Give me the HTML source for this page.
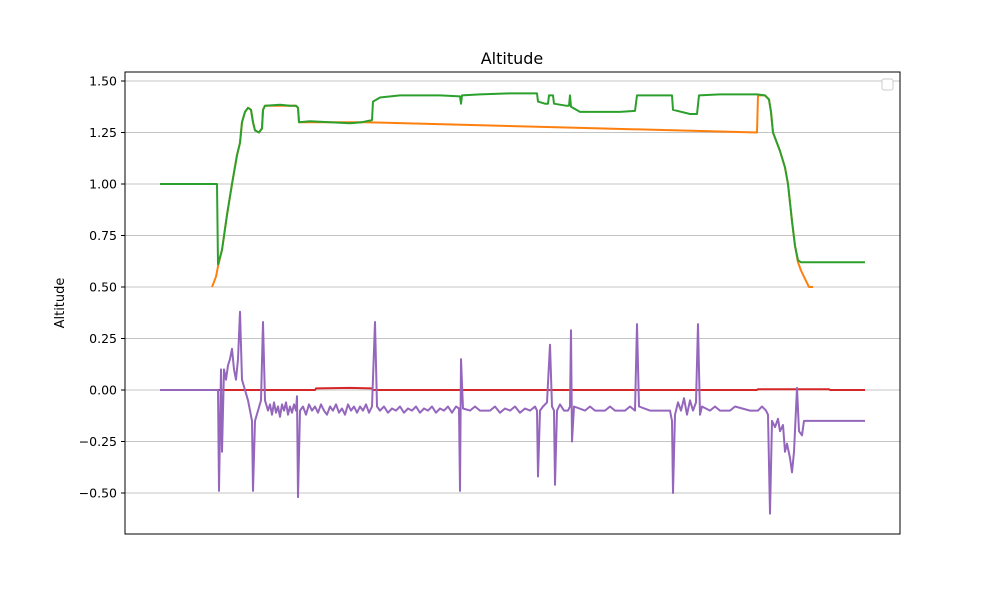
<!DOCTYPE html>
<html><head><meta charset="utf-8"><style>
body{margin:0;background:#fff;font-family:"Liberation Sans","DejaVu Sans",sans-serif}
svg text{font-family:"DejaVu Sans","Liberation Sans",sans-serif}
</style></head><body>
<svg id="chart" width="1000" height="600" xmlns="http://www.w3.org/2000/svg">
<rect width="1000" height="600" fill="#fff"/>
<g id="grid"></g>
<g id="series"></g>
<rect x="125" y="72" width="775" height="462" fill="none" stroke="#000" stroke-width="1"/>
<g id="yticks"></g>
<text x="512" y="64" font-size="16" text-anchor="middle">Altitude</text>
<text transform="translate(64,303) rotate(-90)" font-size="13" text-anchor="middle">Altitude</text>
<rect x="882" y="79" width="11" height="11" rx="2" fill="#fff" stroke="#ccc"/>
</svg>
<script>
const yTicks=[1.5,1.25,1.0,0.75,0.5,0.25,0,-0.25,-0.5];
const yTickLabels=["1.50","1.25","1.00","0.75","0.50","0.25","0.00","\u22120.25","\u22120.50"];
const green=[[0,1.0],[57,1.0],[58,0.61],[62,0.68],[67,0.85],[72,1.0],[77,1.14],[80,1.2],[82,1.3],[85,1.35],[88,1.37],[91,1.36],[93,1.3],[95,1.26],[99,1.25],[102,1.27],[103,1.36],[105,1.38],[120,1.385],[130,1.38],[136,1.38],[138,1.37],[139,1.30],[150,1.305],[170,1.30],[190,1.295],[202,1.30],[212,1.31],[213,1.40],[220,1.42],[240,1.43],[280,1.43],[300,1.425],[301,1.39],[302,1.43],[320,1.435],[350,1.44],[377,1.44],[378,1.40],[385,1.39],[388,1.39],[389,1.43],[393,1.43],[394,1.39],[406,1.38],[409,1.38],[410,1.43],[411,1.375],[420,1.35],[460,1.35],[475,1.355],[477,1.43],[500,1.43],[512,1.43],[513,1.36],[530,1.34],[537,1.34],[539,1.43],[560,1.435],[597,1.435],[605,1.43],[609,1.41],[611,1.35],[613,1.25],[620,1.16],[625,1.08],[628,1.0],[632,0.82],[635,0.7],[638,0.63],[641,0.62],[705,0.62]];
const orange=[[52,0.5],[56,0.55],[58,0.6],[62,0.68],[67,0.85],[72,1.0],[77,1.14],[80,1.2],[82,1.3],[85,1.35],[88,1.37],[91,1.36],[93,1.3],[95,1.26],[99,1.25],[102,1.27],[103,1.36],[105,1.38],[136,1.38],[138,1.37],[139,1.30],[170,1.30],[205,1.30],[597,1.25],[598,1.43],[605,1.43],[609,1.41],[611,1.35],[613,1.25],[620,1.16],[625,1.08],[628,1.0],[632,0.82],[635,0.7],[638,0.62],[641,0.58],[645,0.54],[649,0.5],[653,0.5]];
const red=[[0,0],[155,0],[156,0.008],[190,0.01],[212,0.008],[213,0],[597,0],[598,0.004],[669,0.004],[670,0],[705,0]];
const purple=[[0,0],[58,0],[59,-0.49],[61,0.1],[62,-0.3],[64,0.1],[66,0.05],[68,0.12],[70,0.15],[72,0.2],[74,0.1],[76,0.05],[78,0.15],[80,0.38],[82,0.05],[85,0.0],[88,-0.05],[90,-0.1],[92,-0.15],[93,-0.49],[95,-0.15],[98,-0.1],[101,-0.05],[103,0.33],[105,-0.05],[108,-0.1],[110,-0.07],[112,-0.12],[114,-0.06],[116,-0.11],[118,-0.08],[120,-0.13],[122,-0.07],[124,-0.1],[126,-0.06],[128,-0.12],[130,-0.08],[132,-0.11],[134,-0.07],[136,-0.1],[137,-0.03],[138,-0.52],[140,-0.1],[143,-0.08],[146,-0.12],[149,-0.07],[152,-0.1],[155,-0.08],[158,-0.11],[161,-0.07],[164,-0.1],[167,-0.12],[170,-0.08],[173,-0.1],[176,-0.07],[179,-0.11],[182,-0.09],[185,-0.12],[188,-0.07],[191,-0.1],[194,-0.08],[197,-0.11],[200,-0.08],[203,-0.1],[206,-0.07],[209,-0.11],[212,-0.08],[215,0.33],[217,-0.08],[220,-0.1],[224,-0.08],[228,-0.11],[232,-0.09],[236,-0.1],[240,-0.08],[244,-0.11],[248,-0.09],[252,-0.1],[256,-0.08],[260,-0.11],[264,-0.09],[268,-0.1],[272,-0.08],[276,-0.11],[280,-0.09],[284,-0.1],[288,-0.08],[292,-0.11],[296,-0.08],[299,-0.09],[300,-0.49],[301,0.15],[303,-0.09],[310,-0.1],[315,-0.08],[320,-0.1],[330,-0.1],[335,-0.08],[340,-0.11],[345,-0.09],[350,-0.1],[355,-0.08],[360,-0.11],[365,-0.09],[370,-0.1],[375,-0.08],[377,-0.1],[378,-0.42],[380,-0.1],[383,-0.08],[387,-0.06],[390,0.22],[392,-0.08],[394,-0.1],[395,-0.46],[397,-0.1],[400,-0.07],[404,-0.1],[408,-0.1],[410,-0.08],[411,0.29],[412,-0.25],[414,-0.08],[425,-0.1],[430,-0.08],[435,-0.1],[445,-0.1],[450,-0.08],[455,-0.1],[465,-0.1],[470,-0.08],[475,-0.1],[477,0.32],[479,-0.08],[490,-0.1],[510,-0.1],[512,-0.15],[513,-0.5],[515,-0.12],[518,-0.06],[521,-0.1],[524,-0.04],[527,-0.12],[530,-0.05],[533,-0.1],[536,-0.06],[538,0.32],[540,-0.12],[542,-0.08],[550,-0.1],[555,-0.08],[560,-0.1],[570,-0.1],[575,-0.08],[590,-0.1],[598,-0.1],[602,-0.08],[606,-0.1],[608,-0.12],[610,-0.6],[612,-0.15],[615,-0.18],[618,-0.14],[620,-0.2],[623,-0.17],[625,-0.3],[627,-0.26],[630,-0.33],[632,-0.4],[634,-0.3],[637,0.01],[639,-0.2],[642,-0.22],[644,-0.15],[705,-0.15]];

const X0=160,X1=865,XMAX=705;
function xs(t){return X0+(X1-X0)*t/XMAX;}
function ys(v){return 390-206*v;}
const NS="http://www.w3.org/2000/svg";
const grid=document.getElementById('grid'),yt=document.getElementById('yticks'),sg=document.getElementById('series');
yTicks.forEach((v,i)=>{
 const y=ys(v);
 const g=document.createElementNS(NS,'line');
 
 
 g.setAttribute('x1',125);g.setAttribute('x2',900);g.setAttribute('y1',y);g.setAttribute('y2',y);
 g.setAttribute('stroke','#b0b0b0');g.setAttribute('stroke-width','0.8');
 grid.appendChild(g);
 const tk=document.createElementNS(NS,'line');
 
 
 tk.setAttribute('x1',121);tk.setAttribute('x2',125);tk.setAttribute('y1',y);tk.setAttribute('y2',y);
 tk.setAttribute('stroke','#000');
 yt.appendChild(tk);
 const t=document.createElementNS(NS,'text');
 
 
 t.setAttribute('x',117);t.setAttribute('y',y+4.5);t.setAttribute('font-size','12.5');t.setAttribute('text-anchor','end');
 t.textContent=yTickLabels[i];
 yt.appendChild(t);
});
function drawLine(data,color,name){
 const p=document.createElementNS(NS,'path');
 
 
 p.setAttribute('d',data.map((d,i)=>(i?'L':'M')+xs(d[0]).toFixed(1)+','+ys(d[1]).toFixed(1)).join(''));
 p.setAttribute('fill','none');p.setAttribute('stroke',color);p.setAttribute('stroke-width','2');p.setAttribute('stroke-linejoin','round');
 sg.appendChild(p);
}
drawLine(orange,'#ff7f0e','orange-series');
drawLine(green,'#2ca02c','altitude-series');
drawLine(red,'#d62728','red-series');
drawLine(purple,'#9467bd','purple-series');
</script>
</body></html>
